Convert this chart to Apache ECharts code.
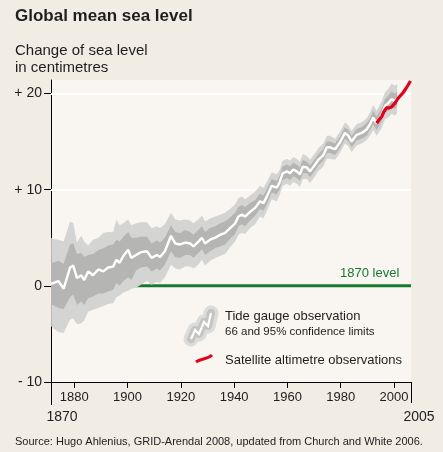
<!DOCTYPE html>
<html><head><meta charset="utf-8">
<script src="https://cdn.jsdelivr.net/npm/echarts@6/dist/echarts.min.js"></script>
<style>html,body{margin:0;padding:0;background:#f1ece4}#c{width:443px;height:452px}</style>
</head><body><div id="c"></div>
<script>
// ---- data (cm, relative to 1870) ----
const years = [1871.3,1872,1874,1876,1878.4,1879.6,1881,1882.6,1883.7,1885.2,
  1887,1889,1890.9,1892.7,1894.6,1895.8,1897,1898.4,1900.2,1901.4,
  1903.2,1905,1907.3,1909,1911,1912.2,1914,1916.3,1917.9,1919.7,
  1921.6,1923.5,1924.7,1926.6,1927.9,1929.1,1931,1932.9,1934.7,1936.6,
  1938.5,1940.4,1941.6,1942.9,1944.1,1946,1947.9,1949.7,1951,1952.3,
  1954.1,1956,1957,1958.2,1959.8,1961,1962.2,1963.5,1964.7,1965.8,
  1967.3,1968.5,1970.4,1971.6,1973.5,1974.8,1976,1977.9,1979.7,1981.6,
  1982.9,1984.1,1986,1987.9,1989.7,1991,1992.2,1993.5,1995.4,1996.6,
  1997.9,1999.1,2000.4,2001.2];
const meanLevel = [0.2,0.1,0.5,-0.3,1.9,2.1,0.8,1.1,0.6,1.5,
  1.1,1.7,1.5,1.9,2.0,2.7,2.4,3.1,3.75,2.9,
  3.2,3.5,3.6,2.9,3.2,3.0,3.6,5.2,4.4,4.3,
  4.5,4.4,4.1,4.6,5.0,4.4,4.8,5.0,5.3,5.5,
  6.0,6.5,7.2,7.4,7.2,7.7,8.1,8.8,8.6,9.3,
  10.4,10.2,10.7,11.7,11.9,11.7,12.1,11.9,11.6,12.4,
  12.3,11.9,12.6,13.1,13.6,14.4,14.4,14.2,14.9,15.9,
  15.6,15.0,15.7,15.9,16.25,16.8,17.5,16.9,17.8,18.7,
  19.0,19.4,19.2,19.5];
const upper95 = [5.0,4.9,4.8,4.6,6.7,6.5,4.5,5.2,4.6,4.2,
  4.8,5.0,5.5,5.6,5.6,6.9,6.3,6.5,6.9,6.3,
  6.5,6.6,6.6,6.0,6.2,6.0,6.4,7.6,6.9,6.8,
  6.9,6.8,6.5,6.9,7.3,6.7,7.0,7.2,7.4,7.6,
  8.0,8.5,9.1,9.3,9.0,9.4,9.8,10.4,10.2,10.8,
  11.8,11.6,12.0,13.0,13.2,13.0,13.4,13.2,12.9,13.7,
  13.5,13.1,13.8,14.3,14.8,15.6,15.6,15.3,16.0,17.0,
  16.7,16.1,16.8,17.0,17.4,18.0,18.8,18.2,19.2,20.1,
  20.5,21.0,20.8,21.0];
const upper66 = [2.5,2.4,2.6,2.3,4.3,4.4,3.3,3.4,3.0,3.2,
  3.3,3.7,3.9,4.2,4.3,4.8,4.6,5.1,5.6,5.0,
  5.0,5.1,5.1,4.4,4.7,4.5,5.0,6.3,5.6,5.5,
  5.8,5.6,5.3,5.8,6.2,5.6,6.0,6.2,6.5,6.7,
  7.1,7.6,8.2,8.4,8.2,8.6,8.9,9.6,9.4,10.1,
  11.1,10.9,11.4,12.4,12.6,12.4,12.8,12.6,12.3,13.1,
  12.9,12.5,13.2,13.7,14.2,15.0,15.0,14.8,15.5,16.5,
  16.2,15.6,16.3,16.5,16.9,17.4,18.2,17.6,18.5,19.4,
  19.8,20.2,20.0,20.2];
const lower66 = [-2.0,-2.0,-2.3,-2.4,-1.2,-0.9,-2.0,-1.6,-2.0,-1.3,
  -1.1,-0.8,-0.8,-0.6,-0.4,0.3,0.0,0.5,0.9,0.6,
  1.6,1.9,2.0,1.5,1.8,1.6,2.2,3.6,3.0,2.9,
  3.2,3.2,2.9,3.4,3.8,3.2,3.6,3.9,4.1,4.3,
  4.9,5.4,6.2,6.4,6.2,6.8,7.3,8.0,7.8,8.5,
  9.7,9.5,10.0,11.0,11.2,11.0,11.4,11.2,10.9,11.7,
  11.7,11.3,12.0,12.5,13.0,13.8,13.8,13.6,14.3,15.3,
  15.0,14.4,15.1,15.3,15.6,16.2,16.8,16.2,17.1,18.0,
  18.2,18.6,18.4,18.8];
const lower95 = [-4.2,-4.4,-4.8,-4.9,-3.5,-3.4,-4.0,-3.9,-3.6,-2.7,
  -2.5,-2.3,-2.1,-1.9,-1.8,-1.2,-1.0,-0.7,-0.5,-0.3,
  -0.2,0.1,0.5,0.1,0.4,0.3,0.9,2.2,1.8,1.7,
  2.0,2.0,1.8,2.2,2.7,2.1,2.6,2.9,3.1,3.3,
  4.0,4.6,5.3,5.5,5.4,6.0,6.4,7.2,7.0,7.8,
  9.0,8.8,9.4,10.4,10.6,10.4,10.8,10.6,10.3,11.1,
  11.1,10.7,11.4,11.9,12.4,13.2,13.2,13.1,13.8,14.8,
  14.5,13.9,14.6,14.8,15.1,15.6,16.2,15.6,16.4,17.3,
  17.5,17.9,17.7,18.0];
const satYears = [1993.5,1994.5,1995.4,1996.2,1997.2,1998.3,1999.1,2000.4,2001.3,2002.2,2003.5,2004.7,2006.2];
const satLevel = [16.9,17.3,17.6,18.1,18.5,18.5,18.6,19.0,19.4,19.7,20.1,20.6,21.3];
const levelYears = [1896, 2006.4];
const levelValues = [0, 0];
const xTickYears = [1880,1900,1920,1940,1960,1980,2000];
const yTickValues = [-10,0,10,20];
const gridValues = [10,20];

const FONT = "'Liberation Sans', Arial, sans-serif";
const TXT = '#1e1e1e';
const chart = echarts.init(document.getElementById('c'), null, {renderer:'canvas'});

const pairs = (xs, f) => xs.map((x,i)=>[x, f(i)]);
// confidence bands: [upper, lower, colour]
const bands = [
  {upper: upper95, lower: lower95, color: '#d4d4d3'},
  {upper: upper66, lower: lower66, color: '#b5b5b4'}
];

chart.setOption({
  backgroundColor:'#f1ece4',
  animation:false,
  grid:{left:51, right:32, top:80, bottom:70, show:true, backgroundColor:'#f9f6f2', borderWidth:0},
  xAxis:{type:'value', min:1871.25, max:2006.4,
    axisLine:{show:true, onZero:false, lineStyle:{color:'#000', width:1}},
    axisTick:{show:true, customValues:xTickYears, length:6, lineStyle:{color:'#000'}},
    axisLabel:{customValues:xTickYears, margin:9, fontSize:13, fontFamily:FONT, color:TXT, formatter:v => String(v)},
    splitLine:{show:false}},
  yAxis:{type:'value', min:-10, max:21.4, interval:10,
    axisLine:{show:true, lineStyle:{color:'#000', width:1}},
    axisTick:{show:true, customValues:yTickValues, length:7, lineStyle:{color:'#000'}},
    axisLabel:{customValues:yTickValues, margin:9, fontSize:14, fontFamily:FONT, color:TXT,
      formatter:v => v > 0 ? '+ ' + v : (v < 0 ? '- ' + Math.abs(v) : '0')},
    splitLine:{show:false}},
  series:[
    {type:'line', name:'1870 level', data:pairs(levelYears, i=>levelValues[i]), symbol:'none', silent:true, z:1,
      lineStyle:{color:'#17792f', width:3},
      markLine:{silent:true, symbol:'none', z:1, label:{show:false},
        lineStyle:{color:'#ffffff', width:2, type:'solid'},
        data:gridValues.map(v=>({yAxis:v}))}},
    {type:'custom', name:'confidence', silent:true, z:2,
      data: bands.map((b,i)=>[years[0], b.lower[0], i]),
      encode:{x:0, y:1},
      renderItem:(params, api) => {
        const b = bands[params.dataIndex];
        const top = years.map((y,i)=>api.coord([y, b.upper[i]]));
        const bot = years.map((y,i)=>api.coord([y, b.lower[i]])).reverse();
        return {type:'polygon', shape:{points: top.concat(bot)}, style:{fill:b.color, stroke:null}};
      }},
    {type:'line', name:'Tide gauge', data:pairs(years, i=>meanLevel[i]), symbol:'none', silent:true, z:3,
      lineStyle:{color:'#ffffff', width:2.4}},
    {type:'line', name:'Satellite', data:pairs(satYears, i=>satLevel[i]), symbol:'none', silent:true, z:4,
      lineStyle:{color:'#e2001a', width:3.2}}
  ],
  graphic:[
    {type:'text', left:15, top:8, style:{text:'Global mean sea level', font:"bold 17px " + FONT, fill:TXT}},
    {type:'text', left:15, top:42, style:{text:'Change of sea level\nin centimetres', font:"15px " + FONT, fill:TXT, lineHeight:17}},
    {type:'line', shape:{x1:51.5, y1:382, x2:51.5, y2:405}, style:{stroke:'#000', lineWidth:1}},
    {type:'line', shape:{x1:411.5, y1:382, x2:411.5, y2:403}, style:{stroke:'#000', lineWidth:1}},
    {type:'text', x:62, y:417, style:{text:'1870', font:"14px " + FONT, fill:TXT, align:'center', verticalAlign:'middle'}},
    {type:'text', x:419, y:417, style:{text:'2005', font:"14px " + FONT, fill:TXT, align:'center', verticalAlign:'middle'}},
    {type:'text', x:340, y:273, style:{text:'1870 level', font:"13px " + FONT, fill:'#17792f', verticalAlign:'middle'}},
    {type:'text', x:15, y:442, style:{text:'Source: Hugo Ahlenius, GRID-Arendal 2008, updated from Church and White 2006.', font:"11px " + FONT, fill:TXT, verticalAlign:'middle'}},
    // legend
    {type:'polyline', shape:{points:[[191,339],[195,330],[199,334],[204,322],[208,326],[211,313]]}, style:{stroke:'#dcdcdb', lineWidth:15, lineJoin:'round', lineCap:'round', fill:null}, z:10},
    {type:'polyline', shape:{points:[[191,339],[195,330],[199,334],[204,322],[208,326],[211,313]]}, style:{stroke:'#c4c4c3', lineWidth:8, lineJoin:'round', lineCap:'round', fill:null}, z:11},
    {type:'polyline', shape:{points:[[191,339],[195,330],[199,334],[204,322],[208,326],[211,313]]}, style:{stroke:'#ffffff', lineWidth:2.2, fill:null}, z:12},
    {type:'text', x:225, y:316, style:{text:'Tide gauge observation', font:"13px " + FONT, fill:TXT, verticalAlign:'middle'}},
    {type:'text', x:225, y:332, style:{text:'66 and 95% confidence limits', font:"11.5px " + FONT, fill:TXT, verticalAlign:'middle'}},
    {type:'bezierCurve', shape:{x1:196, y1:362, cpx1:201, cpy1:358, cpx2:207, cpy2:360, x2:212, y2:355}, style:{stroke:'#e2001a', lineWidth:3, fill:null}, z:12},
    {type:'text', x:225, y:360, style:{text:'Satellite altimetre observations', font:"13px " + FONT, fill:TXT, verticalAlign:'middle'}}
  ]
});
</script></body></html>
